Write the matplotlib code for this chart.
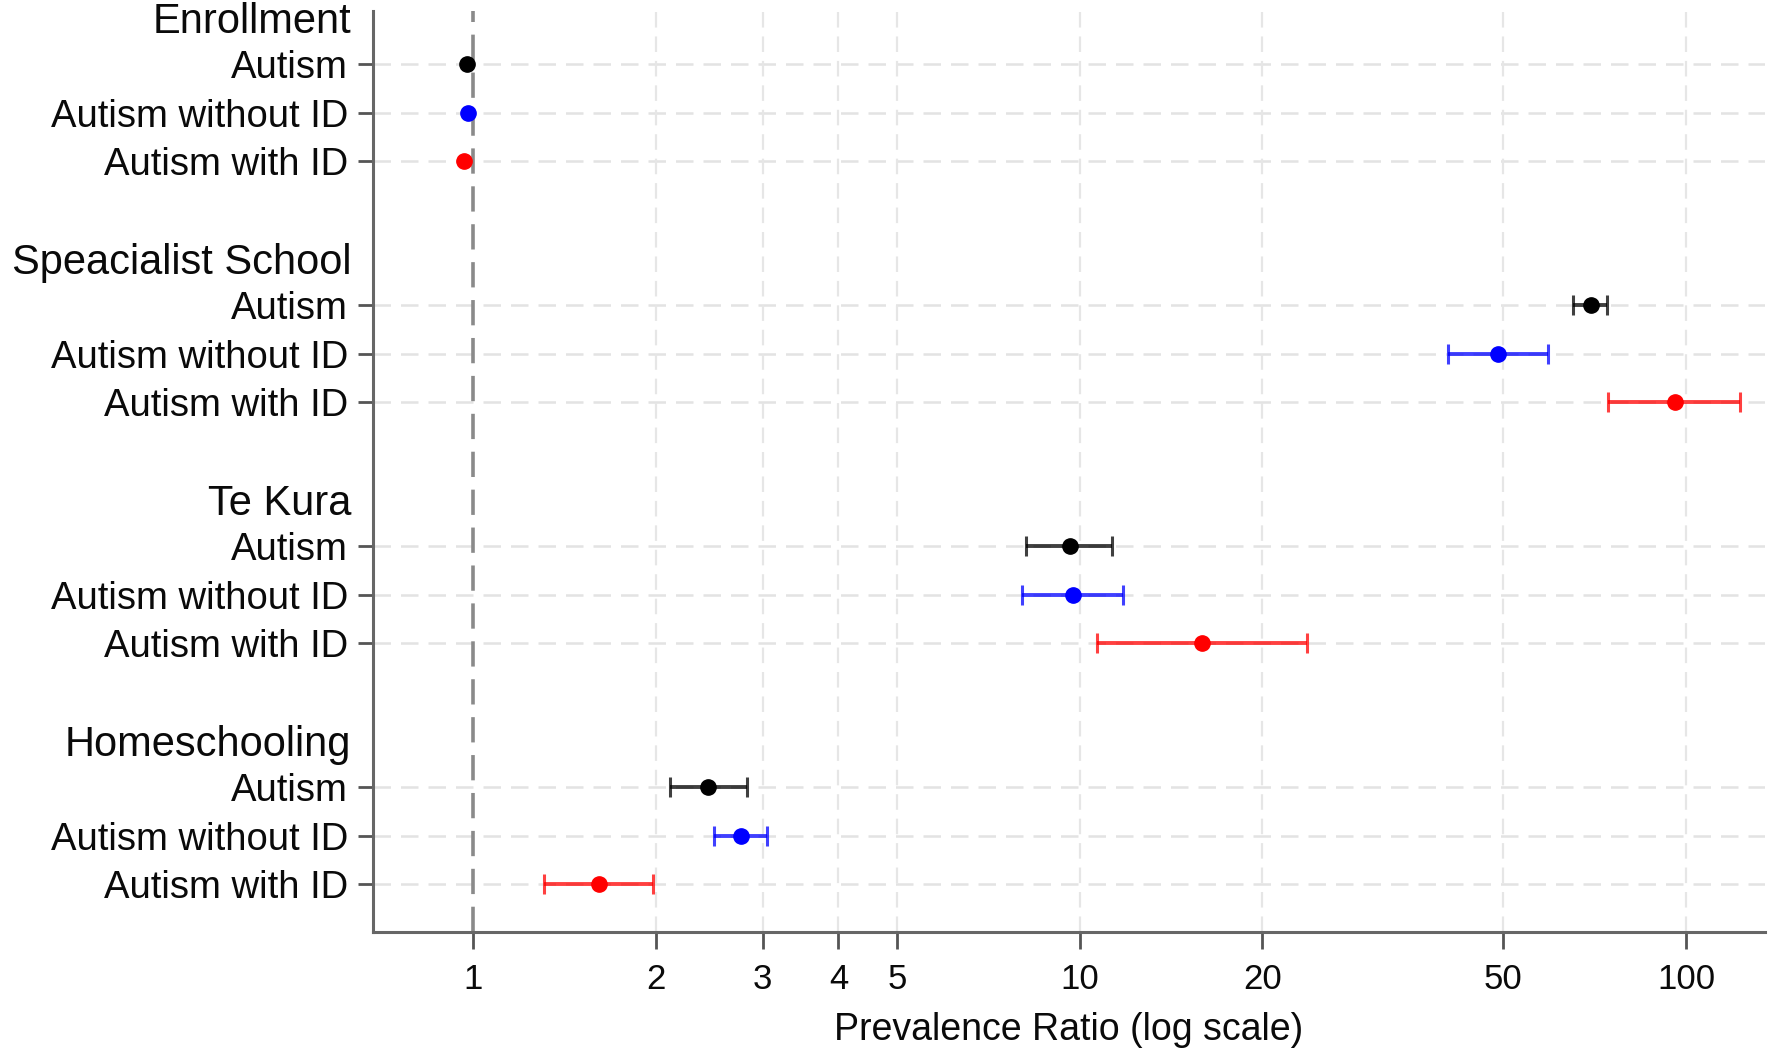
import matplotlib
matplotlib.use("Agg")
import matplotlib.pyplot as plt
from matplotlib.ticker import FixedLocator, FixedFormatter, NullLocator
import matplotlib.transforms as mtransforms

plt.rcParams['font.family'] = ['Liberation Sans', 'DejaVu Sans']

groups = ["Enrollment", "Speacialist School", "Te Kura", "Homeschooling"]
subgroups = ["Autism", "Autism without ID", "Autism with ID"]
colors = ["black", "blue", "red"]

# point estimates [group][subgroup]
pr = [
    [0.975, 0.98, 0.966],
    [69.8, 48.9, 95.8],
    [9.63, 9.75, 15.9],
    [2.44, 2.76, 1.61],
]
lo = [
    [0.975, 0.98, 0.966],
    [65.1, 40.5, 74.4],
    [8.17, 8.04, 10.7],
    [2.11, 2.49, 1.31],
]
hi = [
    [0.975, 0.98, 0.966],
    [74.1, 59.3, 122.8],
    [11.3, 11.8, 23.7],
    [2.83, 3.05, 1.98],
]
xticks = [1, 2, 3, 4, 5, 10, 20, 50, 100]
xticklabels = ["1", "2", "3", "4", "5", "10", "20", "50", "100"]

fig = plt.figure(figsize=(17.71, 10.56), dpi=100)
ax = fig.add_axes([0.2106, 0.1174, 0.786, 0.8722])
ax.set_xscale("log")
ax.set_xlim(0.683, 135)
ax.set_ylim(19, -0.108)

row_pos = []
row_lab = []
for g, gname in enumerate(groups):
    for s, sname in enumerate(subgroups):
        y = 5 * g + s + 1
        row_pos.append(y)
        row_lab.append(sname)
        v = pr[g][s]
        l = lo[g][s]
        h = hi[g][s]
        if h > l:
            ax.errorbar([v], [y], xerr=[[v - l], [h - v]], fmt="none",
                        ecolor=colors[s], elinewidth=2.8, capsize=7,
                        capthick=2.2, alpha=0.75, zorder=3)
        ax.plot([v], [y], "o", color=colors[s], markersize=11, zorder=4)

# grid lines
for y in row_pos:
    ax.axhline(y, color="#e3e3e3", lw=1.8, ls=(0, (7, 4)), zorder=1)
for xv in xticks[1:]:
    ax.axvline(xv, color="#e6e6e6", lw=1.6, ls=(0, (7, 4)), zorder=1)
ax.axvline(1, color="#8a8a8a", lw=2.6, ls=(0, (7, 3.5)), zorder=2)

ax.yaxis.set_major_locator(FixedLocator(row_pos))
ax.yaxis.set_major_formatter(FixedFormatter(row_lab))
ax.xaxis.set_major_locator(FixedLocator(xticks))
ax.xaxis.set_major_formatter(FixedFormatter(xticklabels))
ax.xaxis.set_minor_locator(NullLocator())

ax.tick_params(axis="y", length=11, width=2, color="#555555", pad=7,
               labelsize=27.5, labelcolor="#0a0a0a")
ax.tick_params(axis="x", length=12, width=2, color="#555555", pad=10,
               labelsize=25, labelcolor="#0a0a0a")

for side in ["top", "right"]:
    ax.spines[side].set_visible(False)
for side in ["left", "bottom"]:
    ax.spines[side].set_color("#666666")
    ax.spines[side].set_linewidth(2.2)

trans = mtransforms.blended_transform_factory(ax.transAxes, ax.transData)
for g, gname in enumerate(groups):
    ax.text(-0.0155, 5 * g + 0.13, gname, transform=trans, ha="right",
            va="center", fontsize=30, color="#0a0a0a")

ax.set_xlabel("Prevalence Ratio (log scale)", fontsize=27, color="#0a0a0a",
              labelpad=12)

fig.savefig("out.png", dpi=100)
